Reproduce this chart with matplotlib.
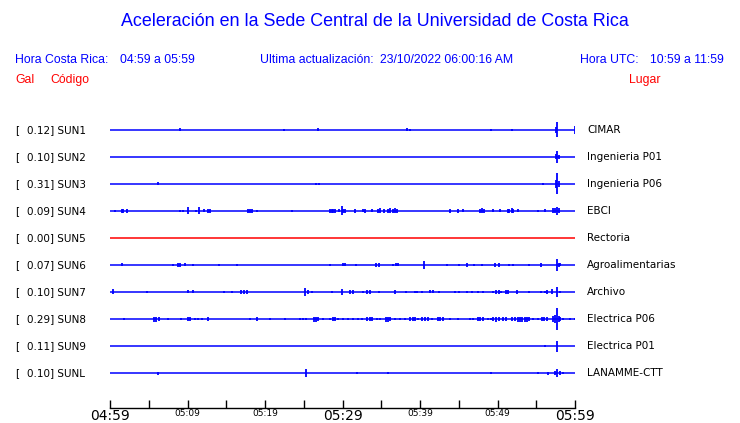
#
# Acceleration traces, Sede Central UCR (one hour window)
#
import matplotlib
matplotlib.use("Agg")
import matplotlib.pyplot as plt
from matplotlib.transforms import blended_transform_factory

# station info
codes = ["SUN1", "SUN2", "SUN3", "SUN4", "SUN5", "SUN6", "SUN7", "SUN8", "SUN9", "SUNL"]
gal = [0.12, 0.10, 0.31, 0.09, 0.00, 0.07, 0.10, 0.29, 0.11, 0.10]
places = ["CIMAR", "Ingenieria P01", "Ingenieria P06", "EBCI", "Rectoria",
          "Agroalimentarias", "Archivo", "Electrica P06", "Electrica P01", "LANAMME-CTT"]

# time axis (minutes after 04:59)
tick_min = list(range(0, 61, 5))
tick_lab = ["04:59", "", "05:09", "", "05:19", "", "05:29", "", "05:39", "", "05:49", "", "05:59"]

# spikes per station: (minute, amplitude)
sun1 = [(9.0, 1.5), (22.5, 1), (26.8, 1.5), (38.3, 1.5), (38.7, 1), (49.2, 1), (51.9, 1),
        (57.5, 3), (57.7, 7.5), (60.0, 4)]
sun2 = [(57.6, 2.5), (57.7, 6), (57.9, 2)]
sun3 = [(6.2, 1.5), (26.6, 1), (27.0, 1), (55.9, 1), (57.5, 4), (57.7, 10.5), (57.9, 3)]
sun4 = [(0.6, 1), (1.5, 2), (1.7, 2), (2.2, 2), (9.0, 1), (9.4, 1), (10.1, 3.5), (11.1, 1),
        (11.5, 3.5), (12.1, 1.5), (12.6, 2), (12.9, 2), (17.8, 2), (18.1, 2), (18.3, 2),
        (19.0, 1), (23.5, 1), (28.4, 2), (28.6, 2), (28.8, 2), (29.0, 2), (29.5, 1.5),
        (29.9, 4.5), (30.1, 2), (30.3, 2), (31.6, 2), (32.6, 1.5), (32.9, 2), (33.8, 1.5),
        (34.6, 2), (34.8, 2.5), (35.4, 2), (35.9, 2), (36.1, 2.5), (36.5, 2), (36.8, 2.5),
        (37.0, 2), (43.9, 2), (44.9, 2), (45.5, 1.5), (47.7, 2), (48.0, 2.5), (48.3, 2),
        (49.4, 1.5), (50.3, 1.5), (51.4, 2), (51.5, 2), (51.9, 2.5), (52.0, 2), (52.6, 1.5),
        (55.2, 1), (56.1, 1.5), (57.2, 2.5), (57.4, 2.5), (57.7, 4), (57.9, 2.5)]
sun5 = []
sun6 = [(1.5, 1.5), (8.1, 1), (8.8, 2), (9.0, 2), (9.7, 1.5), (10.7, 1), (14.1, 1), (16.4, 1),
        (28.4, 1), (30.1, 1.5), (30.3, 1.5), (31.7, 1), (34.3, 2), (34.7, 2), (36.5, 1),
        (36.9, 1.5), (37.2, 1.5), (40.5, 4), (43.5, 1), (45.0, 1), (46.1, 2), (47.0, 1),
        (48.0, 1), (49.7, 2), (50.2, 2), (51.5, 1), (52.0, 1), (54.1, 1), (55.6, 2),
        (57.7, 6), (57.9, 2), (58.1, 1.5)]
sun7 = [(0.4, 2.5), (4.8, 1), (10.1, 1.5), (10.7, 1.5), (14.7, 1), (15.7, 1), (16.9, 2),
        (17.3, 2), (17.7, 2), (25.2, 4), (25.5, 2), (26.1, 1), (28.6, 1), (29.9, 3), (31.0, 2),
        (31.4, 2), (32.6, 1), (33.2, 2), (33.5, 2), (34.7, 1), (36.8, 2), (38.2, 1), (39.4, 1),
        (39.6, 1), (40.3, 1), (41.3, 1.5), (41.7, 1.5), (42.5, 1), (44.5, 1), (45.0, 1),
        (46.1, 1), (46.7, 1), (47.5, 1), (48.1, 1), (49.4, 1), (49.8, 2), (50.2, 2), (50.5, 1),
        (51.1, 2), (51.4, 2), (52.5, 2), (54.1, 1), (55.6, 1), (56.1, 1), (56.4, 2), (57.0, 2.5),
        (57.7, 5), (58.1, 1)]
sun8 = [(1.8, 1), (5.7, 2.5), (5.9, 2.5), (6.3, 2), (7.5, 1), (9.2, 1), (10.1, 2), (10.3, 2),
        (11.0, 1), (11.4, 1), (11.9, 1), (12.6, 2), (18.1, 1), (19.0, 2), (20.6, 1), (22.6, 1),
        (24.5, 1.5), (24.9, 1), (25.3, 1.5), (26.3, 2.5), (26.6, 2.5), (26.8, 2), (27.5, 1),
        (28.4, 1.5), (28.8, 2), (29.0, 2), (29.4, 1), (30.1, 1.5), (30.7, 1.5), (31.4, 1),
        (32.0, 1.5), (32.5, 1), (33.2, 2), (33.5, 2), (33.8, 2), (34.5, 1.5), (34.8, 1),
        (35.6, 2.5), (35.9, 2.5), (36.1, 2), (36.8, 1.5), (37.4, 1), (38.1, 1), (38.7, 2),
        (39.1, 2), (39.4, 2), (39.7, 1), (40.3, 2), (40.7, 2), (41.0, 2), (41.5, 1), (42.3, 2),
        (42.6, 2), (43.0, 2), (43.9, 1.5), (44.9, 1), (46.5, 1), (46.8, 1.5), (47.5, 2),
        (47.8, 2), (48.1, 2), (48.8, 1), (49.2, 1.5), (49.4, 2), (49.8, 2.5), (50.2, 2),
        (50.7, 2), (51.1, 2), (51.9, 2), (52.3, 2), (52.6, 2.5), (52.9, 2.5), (53.2, 2.5),
        (53.5, 2.5), (53.8, 2.5), (54.1, 2), (54.6, 1.5), (55.2, 1), (55.7, 2), (56.0, 2),
        (56.4, 2), (57.2, 3), (57.4, 4), (57.7, 11), (57.9, 3), (58.1, 2), (58.5, 1.5),
        (59.4, 1), (60.0, 1.5)]
sun9 = [(56.1, 1), (57.7, 5.5)]
sunl = [(6.2, 1.5), (25.3, 4), (31.9, 1), (35.9, 1), (49.2, 1), (55.2, 1), (56.5, 1.5),
        (57.4, 2), (57.7, 4), (58.1, 2), (58.5, 1)]
spikes = [sun1, sun2, sun3, sun4, sun5, sun6, sun7, sun8, sun9, sunl]

blue = "#0000ff"
red = "#ff0000"
gain = 1 / 27.0  # spike amplitude -> row units

fig = plt.figure(figsize=(7.4, 4.23), dpi=100)
W, H = 740.0, 423.0

# axes: x from 110 px to 575 px, bottom spine at 408 px
ax = fig.add_axes([110 / W, (H - 408) / H, 465 / W, 308 / H])
nrow = len(codes)
ax.set_xlim(0, 60)
ax.set_ylim(nrow - 1 + 35 / 27.0, -30 / 27.0)

for i, code in enumerate(codes):
    col = red if gal[i] == 0 else blue
    ax.hlines(i, 0, 60, color=col, lw=1.1)
    if spikes[i]:
        t = [s[0] for s in spikes[i]]
        a = [s[1] * gain for s in spikes[i]]
        ax.vlines(t, [i - v for v in a], [i + v for v in a], color=col, lw=1.3)

for side in ["left", "right", "top"]:
    ax.spines[side].set_visible(False)
ax.spines["bottom"].set_linewidth(1.0)
ax.set_yticks([])
ax.set_xticks(tick_min, tick_lab)
ax.tick_params(axis="x", direction="in", length=6, width=1, pad=1)
for lab in ax.get_xticklabels():
    if lab.get_text() in ("04:59", "05:29", "05:59"):
        lab.set_fontsize(10)
    else:
        lab.set_fontsize(6.5)

# row labels
tr = blended_transform_factory(fig.transFigure, ax.transData)
for i, code in enumerate(codes):
    ax.text(15 / W, i, "[", transform=tr, fontsize=7.5, va="center", ha="left")
    ax.text(27 / W, i, "%.2f] %s" % (gal[i], code), transform=tr, fontsize=7.5,
            va="center", ha="left")
    ax.text(587 / W, i, places[i], transform=tr, fontsize=7.5, va="center", ha="left")

# header
hf = ["Liberation Sans", "DejaVu Sans"]
fig.text(375 / W, 1 - 22 / H, "Aceleración en la Sede Central de la Universidad de Costa Rica",
         color=blue, fontsize=12.9, ha="center", va="center", family=hf)
fig.text(15 / W, 1 - 60 / H, "Hora Costa Rica:", color=blue, fontsize=8.8, va="center", family=hf)
fig.text(120 / W, 1 - 60 / H, "04:59 a 05:59", color=blue, fontsize=8.8, va="center", family=hf)
fig.text(260 / W, 1 - 60 / H, "Ultima actualización:", color=blue, fontsize=8.8, va="center", family=hf)
fig.text(380 / W, 1 - 60 / H, "23/10/2022 06:00:16 AM", color=blue, fontsize=8.8, va="center", family=hf)
fig.text(580 / W, 1 - 60 / H, "Hora UTC:", color=blue, fontsize=8.8, va="center", family=hf)
fig.text(650 / W, 1 - 60 / H, "10:59 a 11:59", color=blue, fontsize=8.8, va="center", family=hf)
fig.text(15 / W, 1 - 80 / H, "Gal", color=red, fontsize=8.8, va="center", family=hf)
fig.text(50 / W, 1 - 80 / H, "Código", color=red, fontsize=8.8, va="center", family=hf)
fig.text(629 / W, 1 - 80 / H, "Lugar", color=red, fontsize=8.8, va="center", family=hf)

fig.savefig("out.png", dpi=100)
